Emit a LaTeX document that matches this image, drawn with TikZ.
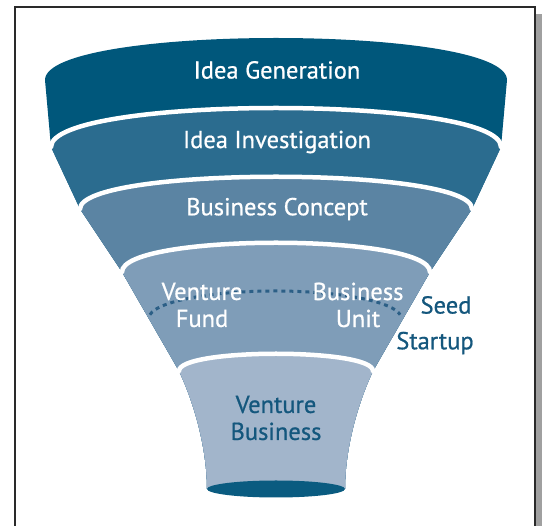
\documentclass[tikz,border=0pt]{standalone}
\usepackage{fontspec}
\setmainfont{PT Sans}
\newfontfamily\lblfont[FakeBold=0.7]{PT Sans}
\definecolor{cone}{HTML}{00577B}
\definecolor{ctwo}{HTML}{2B6C8F}
\definecolor{cthree}{HTML}{5B84A3}
\definecolor{cfour}{HTML}{7F9DB8}
\definecolor{cfive}{HTML}{A2B5CB}
\definecolor{ellc}{HTML}{0A5B80}
\definecolor{txtdark}{HTML}{14577D}
\definecolor{dotc}{HTML}{2C5F86}
\definecolor{framec}{HTML}{2A2A2A}
\definecolor{shadowc}{HTML}{A0A0A0}
\begin{document}
\begin{tikzpicture}[x=1pt,y=-1pt,
  lbl/.style={text=white, font=\lblfont\fontsize{24.5}{27}\selectfont, align=center, inner sep=0pt},
  dlbl/.style={lbl, text=txtdark},
  sepline/.style={white, line width=4.5pt, line cap=round},
  dotline/.style={dotc, line width=3pt, dash pattern=on 4pt off 4pt}]
\useasboundingbox (0,0) rectangle (542,526);
% frame and shadow
\fill[shadowc] (536,14) rectangle (542,540);
\draw[framec, line width=1.6pt, fill=white] (15,540) -- (15,7) -- (535,7) -- (535,540);
% funnel bands
\begin{scope}
\clip (45,80) .. controls (45,24) and (507,24) .. (507,80) -- (501,147) -- (472,209) -- (430,272) -- (373,371)
  .. controls (357,405) and (345,450) .. (345,489) -- (207,489)
  .. controls (207,450) and (195,405) .. (179,371) -- (122,272) -- (80,209) -- (51,147) -- cycle;
\fill[cone] (0,0) rectangle (552,600);
\fill[ctwo] (51,147) .. controls (51,95) and (501,95) .. (501,147) -- (560,147) -- (560,600) -- (-10,600) -- (-10,147) -- cycle;
\fill[cthree] (80,209) .. controls (80,166) and (472,166) .. (472,209) -- (560,209) -- (560,600) -- (-10,600) -- (-10,209) -- cycle;
\fill[cfour] (122,272) .. controls (122,233) and (430,233) .. (430,272) -- (560,272) -- (560,600) -- (-10,600) -- (-10,272) -- cycle;
\fill[cfive] (179,371) .. controls (179,348) and (373,348) .. (373,371) -- (560,371) -- (560,600) -- (-10,600) -- (-10,371) -- cycle;
\end{scope}
% separators
\draw[sepline] (51,147) .. controls (51,95) and (501,95) .. (501,147);
\draw[sepline] (80,209) .. controls (80,166) and (472,166) .. (472,209);
\draw[sepline] (122,272) .. controls (122,233) and (430,233) .. (430,272);
\draw[sepline] (179,371) .. controls (179,348) and (373,348) .. (373,371);
% bottom ellipse
\fill[ellc] (276,489) ellipse [x radius=69, y radius=8.5];
% dotted line
\draw[dotline] (275,318) ++(187:126 and 27) arc[start angle=187, end angle=353, x radius=126, y radius=27];
% labels
\node[lbl] (gen) at (277,70) {Idea Generation};
\node[lbl] (inv) at (277,142) {Idea Investigation};
\node[lbl] (con) at (277,209) {Business Concept};
\node[lbl] (vf) at (202,305) {Venture\\Fund};
\node[lbl] (bu) at (358,305) {Business\\Unit};
\node[dlbl] (vb) at (276,418) {Venture\\Business};
\node[dlbl] (seed) at (446,305) {Seed};
\node[dlbl] (start) at (435,343) {Startup};
\end{tikzpicture}
\end{document}
